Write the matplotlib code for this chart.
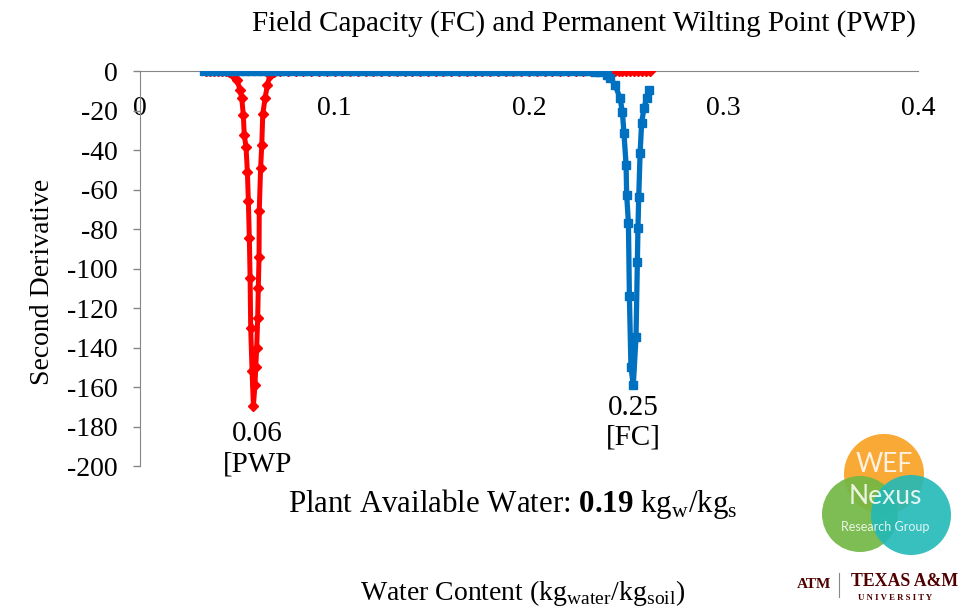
import matplotlib
matplotlib.use("Agg")
import matplotlib.pyplot as plt
from matplotlib.patches import Circle

plt.rcParams['font.family'] = ['Liberation Serif', 'DejaVu Serif']
plt.rcParams['mathtext.fontset'] = 'custom'
plt.rcParams['mathtext.rm'] = 'Liberation Serif'
plt.rcParams['mathtext.bf'] = 'Liberation Serif:bold'
plt.rcParams['axes.unicode_minus'] = False

# second derivative of the retention curve, PWP branch (red)
pwp_x = [0.034, 0.036, 0.038, 0.040, 0.042, 0.044, 0.046, 0.0480, 0.0499, 0.0514,
         0.0523, 0.0531, 0.0536, 0.0545, 0.0552, 0.0557, 0.0562, 0.0566, 0.0569, 0.0576,
         0.0583, 0.0591, 0.0595, 0.0600, 0.0605, 0.0608, 0.0612, 0.0613, 0.0620, 0.0626,
         0.0631, 0.0643, 0.0655, 0.0668, 0.0690, 0.0720,
         0.076, 0.080, 0.084, 0.088, 0.092, 0.096, 0.100, 0.104, 0.108, 0.112,
         0.116, 0.120, 0.124, 0.128, 0.132, 0.136, 0.140, 0.144, 0.148, 0.152,
         0.156, 0.160, 0.164, 0.168, 0.172, 0.176, 0.180, 0.184, 0.188, 0.192,
         0.196, 0.200, 0.204, 0.208, 0.212, 0.216, 0.220, 0.224, 0.228, 0.232,
         0.234, 0.236, 0.238, 0.240, 0.242, 0.244, 0.246, 0.248, 0.250, 0.252,
         0.254, 0.256, 0.258, 0.260, 0.262]
pwp_y = [0, 0, 0, 0, 0, -0.2, -0.6, -2.0, -4.6, -9.6,
         -13.7, -22.3, -32.4, -38.5, -51.0, -66.0, -84.6, -105.0, -130.0, -152.0,
         -169.5, -159.0, -150.0, -140.0, -125.0, -110.0, -94.0, -71.0, -49.0, -37.5,
         -22.0, -13.7, -7.0, -2.0, -0.6, -0.2,
         0, 0, 0, 0, 0, 0, 0, 0, 0, 0,
         0, 0, 0, 0, 0, 0, 0, 0, 0, 0,
         0, 0, 0, 0, 0, 0, 0, 0, 0, 0,
         0, 0, 0, 0, 0, 0, 0, 0, 0, 0,
         0, 0, 0, 0, 0, 0, 0, 0, 0, 0,
         0, 0, 0, 0, 0]

# FC branch (blue)
fc_x = [0.033, 0.036, 0.039, 0.042, 0.045, 0.048, 0.051, 0.054, 0.057, 0.060,
        0.063, 0.066, 0.069, 0.072, 0.075, 0.078, 0.081, 0.084, 0.087, 0.090,
        0.093, 0.096, 0.099, 0.102, 0.105, 0.108, 0.111, 0.114, 0.117, 0.120,
        0.123, 0.126, 0.129, 0.132, 0.135, 0.138, 0.141, 0.144, 0.147, 0.150,
        0.153, 0.156, 0.159, 0.162, 0.165, 0.168, 0.171, 0.174, 0.177, 0.180,
        0.183, 0.186, 0.189, 0.192, 0.195, 0.198, 0.201, 0.204, 0.207, 0.210,
        0.213, 0.216, 0.219, 0.222, 0.225, 0.228, 0.231, 0.234,
        0.2365, 0.2400, 0.2416, 0.2442, 0.2468, 0.2480, 0.2488, 0.2499, 0.2502,
        0.2511, 0.2516, 0.2524, 0.2536, 0.2550, 0.2557, 0.2560, 0.2564, 0.2571, 0.2579,
        0.2591, 0.2605, 0.2619]
fc_y = [0, 0, 0, 0, 0, 0, 0, 0, 0, 0,
        0, 0, 0, 0, 0, 0, 0, 0, 0, 0,
        0, 0, 0, 0, 0, 0, 0, 0, 0, 0,
        0, 0, 0, 0, 0, 0, 0, 0, 0, 0,
        0, 0, 0, 0, 0, 0, 0, 0, 0, 0,
        0, 0, 0, 0, 0, 0, 0, 0, 0, 0,
        0, 0, 0, 0, -0.1, -0.1, -0.2, -0.3,
        -0.5, -2.0, -3.5, -7.0, -13.7, -20.8, -31.4, -47.6, -62.8,
        -77.0, -114.0, -150.0, -159.0, -134.7, -96.7, -79.5, -63.8, -41.5, -26.3,
        -18.7, -13.7, -9.6]

x_ticks = [0, 0.1, 0.2, 0.3, 0.4]
x_ticklabels = ['0', '0.1', '0.2', '0.3', '0.4']
y_ticks = [0, -20, -40, -60, -80, -100, -120, -140, -160, -180, -200]

fig = plt.figure(figsize=(9.61, 6.09), dpi=100)
ax = fig.add_axes([0.1457, 0.2348, 0.8096, 0.6486])

ax.plot(pwp_x, pwp_y, color='#FF0000', lw=3.6, marker='D', ms=5, mec='#FF0000', zorder=3)
ax.plot(fc_x, fc_y, color='#0070C0', lw=3.8, marker='s', ms=6, mec='#0070C0', zorder=4)

ax.set_xlim(0, 0.4)
ax.set_ylim(-200, 0)
ax.set_xticks(x_ticks)
ax.set_xticklabels(x_ticklabels)
ax.set_yticks(y_ticks)

for s in ['top', 'right']:
    ax.spines[s].set_visible(False)
ax.spines['bottom'].set_position(('data', 0))
ax.spines['bottom'].set_color('#868686')
ax.spines['left'].set_color('#868686')
ax.spines['bottom'].set_zorder(1)
ax.tick_params(axis='x', length=0, pad=18, labelsize=20)
ax.tick_params(axis='y', length=5, width=1, color='#868686', pad=11, labelsize=20)

ax.set_ylabel('Second Derivative', fontsize=20)
ax.yaxis.set_label_coords(-0.109, 0.465)
fig.text(0.608, 0.962, 'Field Capacity (FC) and Permanent Wilting Point (PWP)',
         ha='center', va='center', fontsize=21)
fig.text(0.544, 0.026, r'Water Content (kg$_{\mathrm{water}}$/kg$_{\mathrm{soil}}$)',
         ha='center', va='center', fontsize=20)

# label the two minima
i_pwp = pwp_y.index(min(pwp_y))
i_fc = fc_y.index(min(fc_y))
pwp_val = round(pwp_x[i_pwp], 2)
fc_val = round(fc_x[i_fc], 2)
ax.annotate(f'{pwp_val:.2f}\n[PWP', (pwp_x[i_pwp], pwp_y[i_pwp]), xytext=(3, -11),
            textcoords='offset points', ha='center', va='top', fontsize=21, linespacing=1.2)
ax.annotate(f'{fc_val:.2f}\n[FC]', (fc_x[i_fc], fc_y[i_fc]), xytext=(0, -7),
            textcoords='offset points', ha='center', va='top', fontsize=21, linespacing=1.2)
fig.text(0.534, 0.172,
         r'Plant Available Water: $\mathbf{%.2f}$ kg$_{\mathrm{w}}$/kg$_{\mathrm{s}}$' % (fc_val - pwp_val),
         ha='center', va='center', fontsize=22.2)

# group logo, drawn in pixel space
lg = fig.add_axes([0, 0, 1, 1], zorder=5)
lg.set_xlim(0, 961)
lg.set_ylim(609, 0)
lg.axis('off')
lg.patch.set_alpha(0)
lg.add_patch(Circle((884, 474), 40, color='#F9A52A', alpha=0.95, lw=0))
lg.add_patch(Circle((860, 514), 38, color='#72B844', alpha=0.92, lw=0))
lg.add_patch(Circle((911, 515), 40, color='#22B9B8', alpha=0.9, lw=0))
lg.text(884, 465, 'WEF', color='white', fontsize=19, ha='center', va='center', family='Lato', alpha=0.85)
lg.text(885, 496, 'Nexus', color='white', fontsize=19, ha='center', va='center', family='Lato', alpha=0.85)
lg.text(885, 527, 'Research Group', color='white', fontsize=9, ha='center', va='center', family='Lato', alpha=0.85)

maroon = '#500000'
lg.text(814, 584, 'ATM', color=maroon, fontsize=11, ha='center', va='center', weight='bold')
lg.plot([839, 839], [573, 597], color='#888888', lw=0.8)
lg.text(851, 582, 'TEXAS A&M', color=maroon, fontsize=12.8, ha='left', va='center', weight='bold')
lg.text(858, 598, 'U N I V E R S I T Y', color=maroon, fontsize=6.3, ha='left', va='center', weight='bold')

fig.savefig('out.png', dpi=100)
